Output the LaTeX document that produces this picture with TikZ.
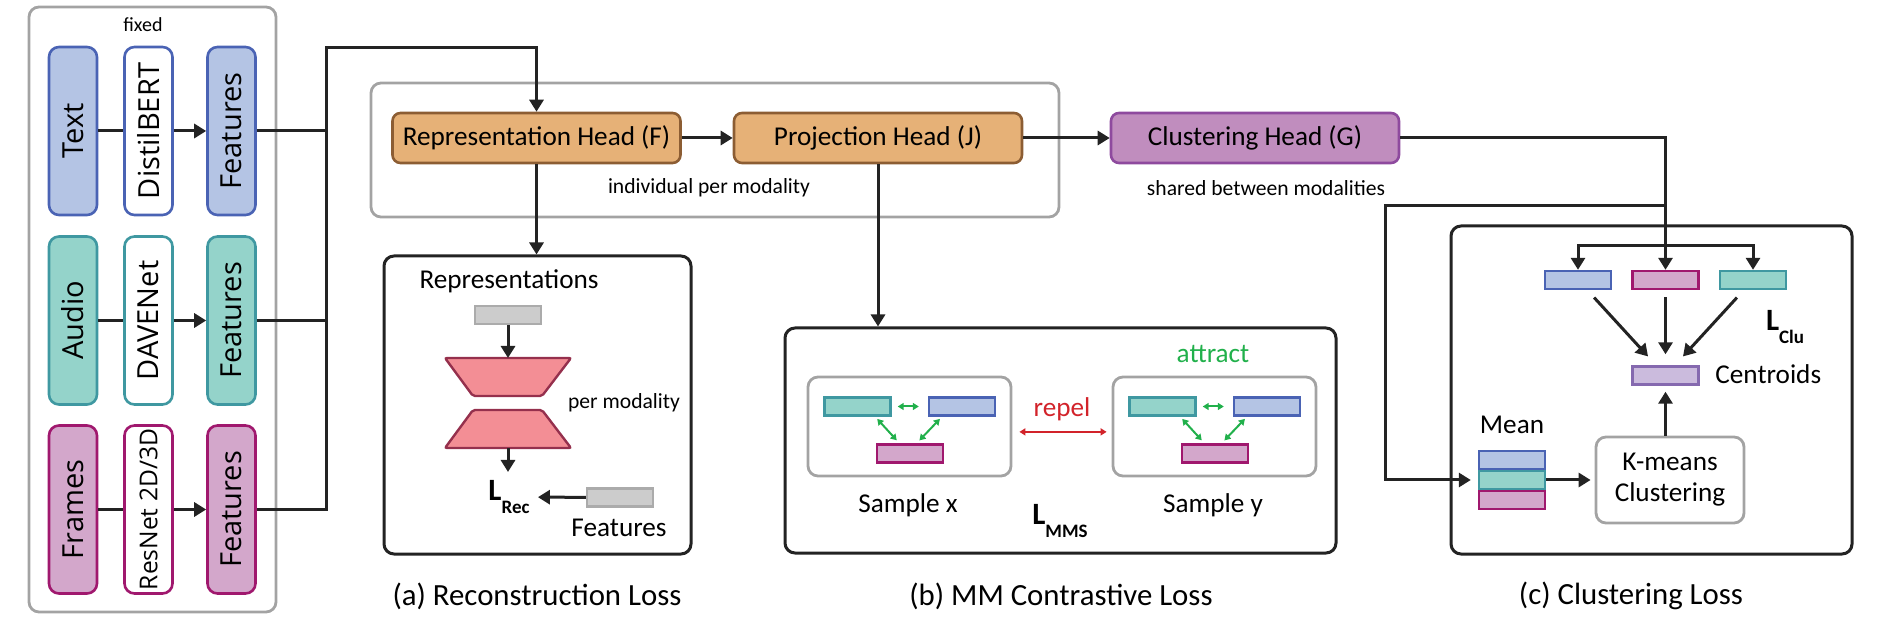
\documentclass[tikz,border=0pt]{standalone}
\usepackage{fontspec}
\setmainfont{Carlito}
\newfontfamily\sidefont{Open Sans}
\usetikzlibrary{arrows.meta}

\definecolor{fillt}{HTML}{B4C4E4}
\definecolor{linet}{HTML}{4A63B4}
\definecolor{filla}{HTML}{94D3CA}
\definecolor{linea}{HTML}{3F98A1}
\definecolor{fillf}{HTML}{D3A7CB}
\definecolor{linef}{HTML}{A0186E}
\definecolor{fillo}{HTML}{E6B177}
\definecolor{lineo}{HTML}{8C5D33}
\definecolor{fillg}{HTML}{C08DBE}
\definecolor{lineg}{HTML}{8E4A9E}
\definecolor{filltr}{HTML}{F38E95}
\definecolor{linetr}{HTML}{95304D}
\definecolor{fillgr}{HTML}{CCCCCC}
\definecolor{linegr}{HTML}{ABABAB}
\definecolor{fillc}{HTML}{CBBBDD}
\definecolor{linec}{HTML}{8569AF}
\definecolor{grayline}{HTML}{A3A3A3}
\definecolor{boxline}{HTML}{232323}
\definecolor{attrgreen}{HTML}{21B04B}
\definecolor{repelred}{HTML}{D2232A}

\newcommand{\mainsize}{\fontsize{13.6}{15.5}\selectfont}
\newcommand{\notesize}{\fontsize{10.8}{13}\selectfont}
\newcommand{\capsize}{\fontsize{15.4}{18}\selectfont}
\newcommand{\encsize}{\fontsize{12.3}{14}\selectfont}
\newcommand{\lossname}[1]{{\bfseries\fontsize{15.5}{18}\selectfont L\raisebox{-6.5pt}{\fontsize{9.5}{11}\selectfont #1}}}

\tikzstyle{modbox}=[draw, line width=1.3pt, rounded corners=5pt, minimum width=24pt, minimum height=84pt, inner sep=0pt, font=\sidefont\fontsize{14.5}{16}\selectfont]
\tikzstyle{head}=[draw, line width=1.3pt, rounded corners=4pt, minimum width=144pt, minimum height=25pt, inner sep=0pt, font=\mainsize]
\tikzstyle{groupbox}=[draw=grayline, line width=1.4pt, rounded corners=5pt, inner sep=0pt]
\tikzstyle{lossbox}=[draw=boxline, line width=1.5pt, rounded corners=5pt, inner sep=0pt]
\tikzstyle{vec}=[draw, line width=1.2pt, minimum width=33pt, minimum height=9pt, inner sep=0pt]
\tikzstyle{coder}=[fill=filltr, draw=linetr, line width=1.2pt, rounded corners=1pt]
\tikzstyle{conn}=[line width=1.5pt, draw=boxline]
\tikzstyle{arr}=[conn, -{Triangle[length=6pt,width=7pt]}]
\tikzstyle{attr}=[line width=1pt, draw=attrgreen, {Triangle[length=3pt,width=3.5pt]}-{Triangle[length=3pt,width=3.5pt]}]
\tikzstyle{repl}=[line width=1pt, draw=repelred, {Triangle[length=3pt,width=3.5pt]}-{Triangle[length=3pt,width=3.5pt]}]
\tikzstyle{txt}=[font=\mainsize, inner sep=0pt]
\tikzstyle{note}=[font=\notesize, inner sep=0pt]
\tikzstyle{caption}=[font=\capsize, inner sep=0pt]

\begin{document}
\begin{tikzpicture}[x=0.5pt, y=-0.5pt]
    \useasboundingbox (0,0) rectangle (1904,635);

    % frozen encoders
    \node[groupbox, minimum width=123.5pt, minimum height=302.5pt] (fixedbox) at (152.5,309.5) {};
    \node[note, font=\fontsize{10}{12}\selectfont] (fixedlbl) at (143,25) {fixed};
    \coordinate (bus) at (326,48);

    \foreach \y/\name/\mod/\enc in {131/t/Text/DistilBERT, 320.5/a/Audio/DAVENet, 509.5/f/Frames/{\encsize ResNet 2D/3D}}
    {
        \node[modbox, fill=fill\name, draw=line\name] (in\name) at (73,\y) {\rotatebox{90}{\mod}};
        \node[modbox, fill=white, draw=line\name] (enc\name) at (148.5,\y) {\rotatebox{90}{\enc}};
        \node[modbox, fill=fill\name, draw=line\name] (feat\name) at (231.5,\y) {\rotatebox{90}{Features}};
        \draw[conn] (in\name) -- (enc\name);
        \draw[arr] (enc\name) -- (feat\name);
    }
    \draw[conn] (featt) -- (featt -| bus);
    \draw[conn] (feata) -- (feata -| bus);

    % heads
    \node[groupbox, minimum width=344pt, minimum height=67pt] (indiv) at (715,150) {};
    \node[head, fill=fillo, draw=lineo] (rep) at (536.5,138) {Representation Head (F)};
    \node[head, fill=fillo, draw=lineo] (proj) at (878,138) {Projection Head (J)};
    \node[head, fill=fillg, draw=lineg] (clu) at (1255,138) {Clustering Head (G)};
    \node[note] (indivlbl) at (709,188) {individual per modality};
    \node[note] (sharedlbl) at (1266,188) {shared between modalities};

    \draw[arr] (featf) -| (bus) -| (rep);
    \draw[arr] (rep) -- (proj);
    \draw[arr] (proj) -- (clu);

    % loss panels
    \node[lossbox, minimum width=153.5pt, minimum height=149pt] (abox) at (537.5,405) {};
    \node[lossbox, minimum width=275.5pt, minimum height=112.5pt] (bbox) at (1060.5,440.5) {};
    \node[lossbox, minimum width=200.5pt, minimum height=164pt] (cbox) at (1651.5,390) {};
    \draw[arr] (rep) -- (rep |- abox.north);
    \draw[arr] (proj) -- (proj |- bbox.north);

    % (a) reconstruction
    \node[txt] (reptxt) at (509,281) {Representations};
    \node[vec, fill=fillgr, draw=linegr] (rin) at (508,315) {};
    \draw[coder] (445,358) -- (571,358) -- (542,396) -- (473,396) -- cycle;
    \draw[coder] (473,410) -- (542,410) -- (571,448) -- (445,448) -- cycle;
    \coordinate (enctop) at (508,358);
    \coordinate (decbot) at (508,448);
    \node[note] (permod) at (624,403) {per modality};
    \node[inner sep=4pt] (lrec) at (509,497) {\lossname{Rec}};
    \node[vec, fill=fillgr, draw=linegr] (rft) at (620,497.5) {};
    \node[txt] (ftxt) at (619,528) {Features};
    \node[caption] (capa) at (537,596) {(a) Reconstruction Loss};
    \draw[arr] (rin) -- (enctop);
    \draw[arr] (decbot) -- (decbot |- lrec.north);
    \draw[arr] (rft) -- (lrec);

    % (b) contrastive
    \foreach \s/\dx in {x/0, y/305}
    {
        \node[groupbox, minimum width=101.5pt, minimum height=49.5pt] (s\s) at (909.5+\dx,426.5) {};
        \node[vec, fill=filla, draw=linea] (te\s) at (857.5+\dx,406.5) {};
        \node[vec, fill=fillt, draw=linet] (bl\s) at (962+\dx,406.5) {};
        \node[vec, fill=fillf, draw=linef] (pk\s) at (910+\dx,453.5) {};
        \draw[attr, shorten <=3pt, shorten >=4.5pt] (te\s) -- (bl\s);
        \draw[attr, shorten <=1.5pt, shorten >=2pt] (te\s.-30) -- (pk\s.136);
        \draw[attr, shorten <=1.5pt, shorten >=2pt] (bl\s.207) -- (pk\s.57);
        \node[txt] (lbl\s) at (908+\dx,505) {Sample \s};
    }
    \node[txt, text=repelred] (repeltxt) at (1062,409) {repel};
    \node[txt, text=attrgreen] (attracttxt) at (1213,354) {attract};
    \draw[repl, shorten <=3.5pt, shorten >=2.5pt] (sx.-3) -- (sy.183);
    \node[inner sep=0pt] (lmms) at (1060,521) {\lossname{MMS}};
    \node[caption] (capb) at (1061,596) {(b) MM Contrastive Loss};

    % (c) clustering
    \node[vec, fill=fillt, draw=linet] (cb) at (1578,280) {};
    \node[vec, fill=fillf, draw=linef] (cp) at (1665.5,280) {};
    \node[vec, fill=filla, draw=linea] (ct) at (1753,280) {};
    \node[vec, fill=fillc, draw=linec] (cen) at (1665.5,375.5) {};
    \node[txt, anchor=west] (centxt) at (1715,374) {Centroids};
    \node[inner sep=0pt] (lclu) at (1785,327) {\lossname{Clu}};
    \node[txt] (meantxt) at (1512,425) {Mean};
    \node[vec, fill=fillt, draw=linet] (mb) at (1512,460) {};
    \node[vec, fill=filla, draw=linea] (mt) at (1512,480) {};
    \node[vec, fill=fillf, draw=linef] (mp) at (1512,500) {};
    \node[groupbox, minimum width=74pt, minimum height=43pt, align=center, font=\mainsize] (km) at (1670,480) {K-means\\Clustering};
    \node[caption] (capc) at (1631,596) {(c) Clustering Loss};

    \coordinate (split) at (1665.5,246);
    \coordinate (tap) at (1665.5,206);
    \coordinate (back) at (1385,206);
    \draw[conn] (clu) -| (split);
    \draw[arr] (split) -- (cp);
    \draw[arr] (split) -| (cb);
    \draw[arr] (split) -| (ct);
    \draw[arr, shorten >=3.5pt] (tap) -- (back) |- (mt);
    \draw[arr, shorten >=2pt] (mt) -- (km);
    \draw[arr, shorten >=3pt] (cen |- km.north) -- (cen);
    \draw[arr, shorten <=5pt, shorten >=6pt] (cb) -- (cen);
    \draw[arr, shorten <=3.5pt, shorten >=5.5pt] (cp) -- (cen);
    \draw[arr, shorten <=5pt, shorten >=6pt] (ct) -- (cen);

\end{tikzpicture}
\end{document}
